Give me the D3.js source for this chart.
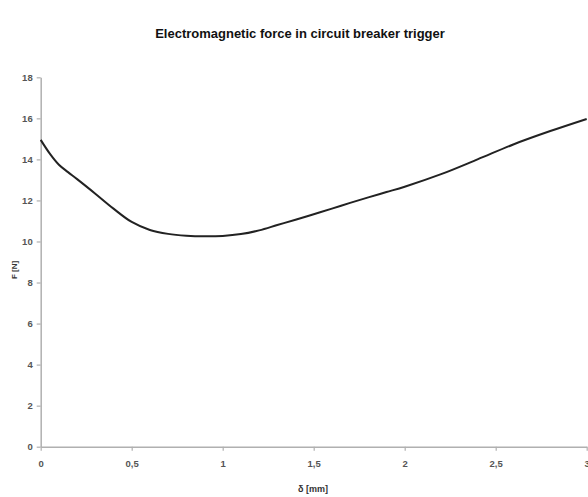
<!DOCTYPE html>
<html><head><meta charset="utf-8">
<script src="https://cdn.jsdelivr.net/npm/d3@7"></script>
<style>body{margin:0;background:#fff}svg{display:block}text{font-family:"Liberation Sans",Arial,sans-serif}</style>
</head><body><svg id="c" width="588" height="497"></svg>
<script>
const deltaMm = [0, 0.05, 0.1, 0.15, 0.2, 0.3, 0.4, 0.5, 0.6, 0.7, 0.8, 0.9, 1.0, 1.1, 1.2, 1.3, 1.4, 1.5, 1.6, 1.7, 1.8, 1.9, 2.0, 2.2, 2.4, 2.6, 2.8, 3.0];
const forceN = [14.95, 14.28, 13.74, 13.38, 13.04, 12.33, 11.6, 10.95, 10.56, 10.37, 10.28, 10.25, 10.27, 10.36, 10.54, 10.8, 11.06, 11.33, 11.6, 11.88, 12.15, 12.41, 12.67, 13.28, 14.0, 14.74, 15.38, 15.97];
const xTicks = [0, 0.5, 1, 1.5, 2, 2.5, 3];
const xTickLabels = ["0", "0,5", "1", "1,5", "2", "2,5", "3"];
const yTicks = [0, 2, 4, 6, 8, 10, 12, 14, 16, 18];

const svg = d3.select("#c");
const x = d3.scaleLinear().domain([0, 3]).range([40.7, 586.7]);
const y = d3.scaleLinear().domain([0, 18]).range([446.7, 77.3]);

const gx = svg.append("g").attr("transform", "translate(0,446.7)")
  .call(d3.axisBottom(x).tickValues(xTicks).tickFormat((d,i)=>xTickLabels[i]).tickSize(4).tickSizeOuter(0).tickPadding(10));
const gy = svg.append("g").attr("transform", "translate(40.7,0)")
  .call(d3.axisLeft(y).tickValues(yTicks).tickSize(4).tickSizeOuter(0).tickPadding(4));
[gx, gy].forEach(g => {
  g.select(".domain").attr("stroke", "#b0b0b0").attr("stroke-width", 1.5);
  g.selectAll(".tick line").attr("stroke", "#b0b0b0").attr("stroke-width", 1.2);
  g.selectAll(".tick text").attr("fill", "#555").attr("font-size", 9.5).attr("font-weight", "bold");
});

svg.append("path")
  .datum(deltaMm.map((d,i)=>[d, forceN[i]]))
  .attr("fill", "none").attr("stroke", "#222").attr("stroke-width", 2)
  .attr("d", d3.line().x(d=>x(d[0])).y(d=>y(d[1])).curve(d3.curveCatmullRom.alpha(0.5)));

svg.append("text").attr("x", 300).attr("y", 38).attr("text-anchor", "middle")
  .attr("font-size", 13).attr("font-weight", "bold").attr("fill", "#111")
  .text("Electromagnetic force in circuit breaker trigger");
svg.append("text").attr("transform", "translate(17,270) rotate(-90)").attr("text-anchor", "middle")
  .attr("font-size", 8).attr("font-weight", "bold").attr("fill", "#333").text("F [N]");
svg.append("text").attr("x", 313).attr("y", 492).attr("text-anchor", "middle")
  .attr("font-size", 9).attr("font-weight", "bold").attr("fill", "#333").text("δ [mm]");
</script></body></html>
